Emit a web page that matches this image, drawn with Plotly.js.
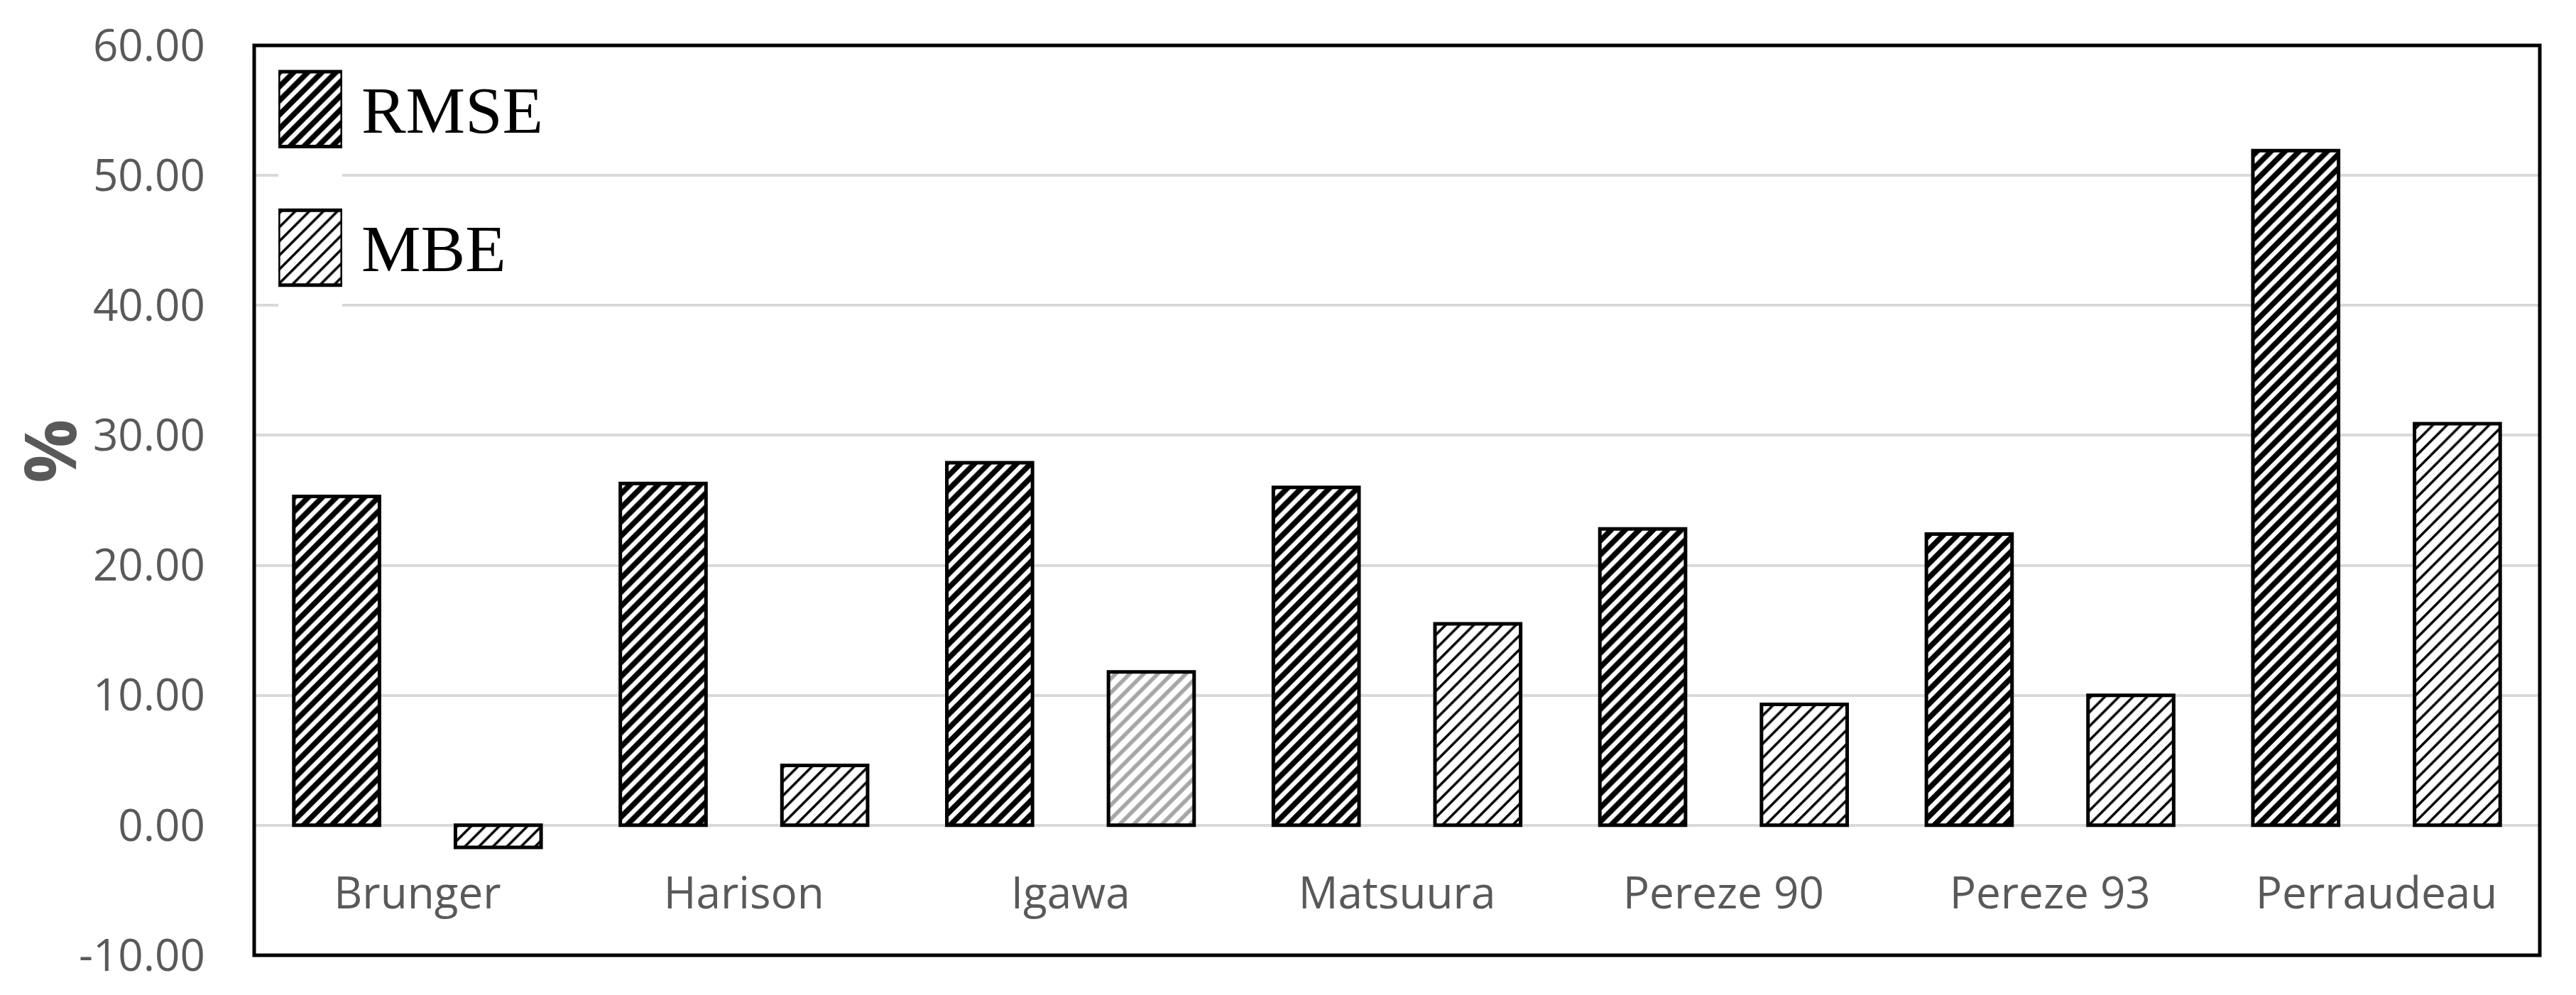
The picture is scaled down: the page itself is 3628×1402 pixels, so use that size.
<!DOCTYPE html>
<html>
<head>
<meta charset="utf-8">
<script src="https://cdn.plot.ly/plotly-3.0.1.min.js"></script>
<style>
  html, body { margin: 0; padding: 0; background: #fff; }
  #plot { width: 3628px; height: 1402px; }
</style>
</head>
<body>
<div id="plot"></div>
<script>
// ─────────────────────────────────────────────────────
// Values
// ─────────────────────────────────────────────────────
const models = ['Brunger', 'Harison', 'Igawa', 'Matsuura', 'Pereze 90', 'Pereze 93', 'Perraudeau'];
const rmse = [25.3, 26.3, 27.9, 26.0, 22.8, 22.4, 51.9];
const mbe = [-1.7, 4.6, 11.8, 15.5, 9.3, 10.0, 30.9];
const seriesNames = ['RMSE', 'MBE'];
const yTicks = [-10, 0, 10, 20, 30, 40, 50, 60];
const yTickText = yTicks.map(v => v.toFixed(2));   // plain hyphen for -10.00
const yRange = [-10, 60];

// Igawa's MBE bar is drawn with a grey hatch in the original
const mbeHatch = models.map(m => m === 'Igawa' ? '#a6a6a6' : '#000');
const mbeSolid = models.map(m => m === 'Igawa' ? 0.4 : 0.25);

const tickFont = { family: 'Open Sans, sans-serif', size: 62, color: '#595959' };
const outline = { color: '#000', width: 5 };

// x axis sits on the zero line, labels hang below it inside the frame
const zeroPos = (0 - yRange[0]) / (yRange[1] - yRange[0]);

const traces = [
    {
        type: 'bar', name: 'RMSE', x: models, y: rmse,
        marker: {
            color: '#fff', line: outline,
            pattern: { shape: '/', fgcolor: '#000', bgcolor: '#fff', size: 14, solidity: 0.55 }
        },
        hoverinfo: 'x+y'
    },
    {
        type: 'bar', name: 'MBE', x: models, y: mbe,
        marker: {
            color: '#fff', line: outline,
            pattern: { shape: '/', fgcolor: mbeHatch, bgcolor: '#fff', size: 14, solidity: mbeSolid }
        },
        hoverinfo: 'x+y'
    },
    // legend key, drawn as a tiny bar chart in the top-left corner
    {
        type: 'bar', orientation: 'h',
        x: seriesNames.map(() => 1), y: seriesNames,
        xaxis: 'x2', yaxis: 'y2', width: 0.54,
        marker: {
            color: '#fff', line: outline,
            pattern: { shape: '/', fgcolor: '#000', bgcolor: '#fff', size: 14, solidity: [0.55, 0.25] }
        },
        hoverinfo: 'skip'
    }
];

const layout = {
    width: 3628,
    height: 1402,
    margin: { l: 358, r: 51, t: 64, b: 56 },
    paper_bgcolor: '#fff',
    plot_bgcolor: '#fff',
    showlegend: false,
    barmode: 'group',
    bargap: 0.01,
    bargroupgap: 0.47,
    xaxis: {
        type: 'category', range: [-0.5, models.length - 0.5],
        anchor: 'free', position: zeroPos,
        showgrid: false, showline: false, zeroline: false, ticks: '',
        ticklabelstandoff: 54, tickfont: tickFont,
        automargin: false, fixedrange: true
    },
    yaxis: {
        range: yRange, tickvals: yTicks, ticktext: yTickText,
        gridcolor: '#d9d9d9', gridwidth: 4,
        zeroline: false, showline: false, ticks: '',
        ticklabelstandoff: 68, tickfont: tickFont,
        automargin: false, fixedrange: true
    },
    xaxis2: { domain: [0.0106, 0.0385], range: [0, 1], anchor: 'y2', visible: false, fixedrange: true },
    yaxis2: {
        domain: [0.70, 1], range: [1.51, -0.46], anchor: 'x2', side: 'right',
        showgrid: false, zeroline: false, showline: false, ticks: '',
        ticklabelstandoff: 26,
        tickfont: { family: 'Liberation Serif, Times New Roman, serif', size: 94, color: '#000' },
        automargin: false, fixedrange: true
    },
    shapes: [
        // white patch behind the legend hides the gridline there
        { type: 'rect', xref: 'paper', yref: 'paper', x0: 0, x1: 0.1314, y0: 0.722, y1: 1,
          fillcolor: '#fff', line: { width: 0 }, layer: 'between' },
        // plot frame
        { type: 'rect', xref: 'paper', yref: 'paper', x0: 0, x1: 1, y0: 0, y1: 1,
          line: { color: '#000', width: 5 }, layer: 'above' }
    ],
    annotations: [
        { text: '%', textangle: -90, showarrow: false,
          xref: 'paper', yref: 'paper', x: -0.0901, y: 0.554,
          xanchor: 'center', yanchor: 'middle',
          font: { family: 'Open Sans, sans-serif', size: 100, color: '#595959', weight: 'bold' } }
    ]
};

Plotly.newPlot('plot', traces, layout, { displayModeBar: false, staticPlot: true });
</script>
</body>
</html>
